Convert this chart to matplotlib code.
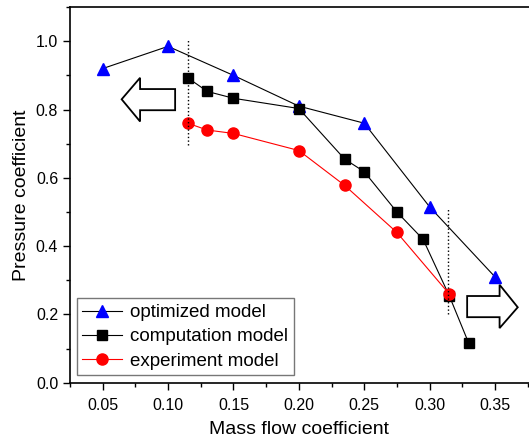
import matplotlib.pyplot as plt
from matplotlib.patches import Polygon
from matplotlib.ticker import MultipleLocator

plt.rcParams['font.family'] = ['Liberation Sans', 'DejaVu Sans']

# optimized model
opt_x = [0.05, 0.10, 0.15, 0.20, 0.25, 0.30, 0.35]
opt_y = [0.92, 0.985, 0.90, 0.81, 0.76, 0.515, 0.31]
# computation model
comp_x = [0.115, 0.13, 0.15, 0.20, 0.235, 0.25, 0.275, 0.295, 0.315, 0.33]
comp_y = [0.893, 0.853, 0.833, 0.803, 0.655, 0.618, 0.50, 0.42, 0.255, 0.115]
# experiment model
exp_x = [0.115, 0.13, 0.15, 0.20, 0.235, 0.275, 0.315]
exp_y = [0.76, 0.74, 0.73, 0.68, 0.578, 0.44, 0.26]

fig = plt.figure(figsize=(5.29, 4.43), dpi=100)
ax = fig.add_axes([0.1323, 0.136, 0.8677, 0.848])

ax.plot(opt_x, opt_y, '-', color='black', lw=0.8, marker='^', ms=9,
        mfc='blue', mec='blue', label='optimized model')
ax.plot(comp_x, comp_y, '-', color='black', lw=0.8, marker='s', ms=7,
        mfc='black', mec='black', label='computation model')
ax.plot(exp_x, exp_y, '-', color='red', lw=0.8, marker='o', ms=8,
        mfc='red', mec='red', label='experiment model')

# dotted limit lines
ax.plot([0.115, 0.115], [0.695, 1.005], ':', color='black', lw=1)
ax.plot([0.314, 0.314], [0.20, 0.512], ':', color='black', lw=1)

# block arrows
left_arrow = [(0.0645, 0.830), (0.0786, 0.893), (0.0786, 0.860), (0.1054, 0.860),
              (0.1054, 0.798), (0.0786, 0.798), (0.0786, 0.765)]
right_arrow = [(0.3674, 0.221), (0.3535, 0.287), (0.3535, 0.254), (0.3287, 0.254),
               (0.3287, 0.192), (0.3535, 0.192), (0.3535, 0.160)]
for pts in (left_arrow, right_arrow):
    ax.add_patch(Polygon(pts, closed=True, fill=False, ec='black', lw=1.3))

ax.set_xlim(0.025, 0.376)
ax.set_ylim(0, 1.1)
ax.xaxis.set_minor_locator(MultipleLocator(0.025))
ax.yaxis.set_minor_locator(MultipleLocator(0.1))
ax.set_xticks([0.05, 0.10, 0.15, 0.20, 0.25, 0.30, 0.35])
ax.set_xticklabels(['0.05', '0.10', '0.15', '0.20', '0.25', '0.30', '0.35'])
ax.set_yticks([0.0, 0.2, 0.4, 0.6, 0.8, 1.0])
ax.set_yticklabels(['0.0', '0.2', '0.4', '0.6', '0.8', '1.0'])
ax.tick_params(which='major', length=5, width=1, labelsize=11.5)
ax.tick_params(which='minor', length=3, width=1)
ax.tick_params(axis='x', pad=6)
ax.spines['right'].set_visible(False)
for s in ('left', 'top', 'bottom'):
    ax.spines[s].set_linewidth(1.2)

ax.set_xlabel('Mass flow coefficient', fontsize=14, labelpad=6)
ax.set_ylabel('Pressure coefficient', fontsize=14, labelpad=4)

leg = ax.legend(loc='lower left', bbox_to_anchor=(0.015, 0.02), fontsize=13.5,
                frameon=True, fancybox=False, edgecolor='#555555',
                handlelength=2.1, handletextpad=0.45, borderpad=0.3,
                labelspacing=0.38, borderaxespad=0)
leg.get_frame().set_linewidth(1.0)

fig.savefig('out.png', dpi=100)
